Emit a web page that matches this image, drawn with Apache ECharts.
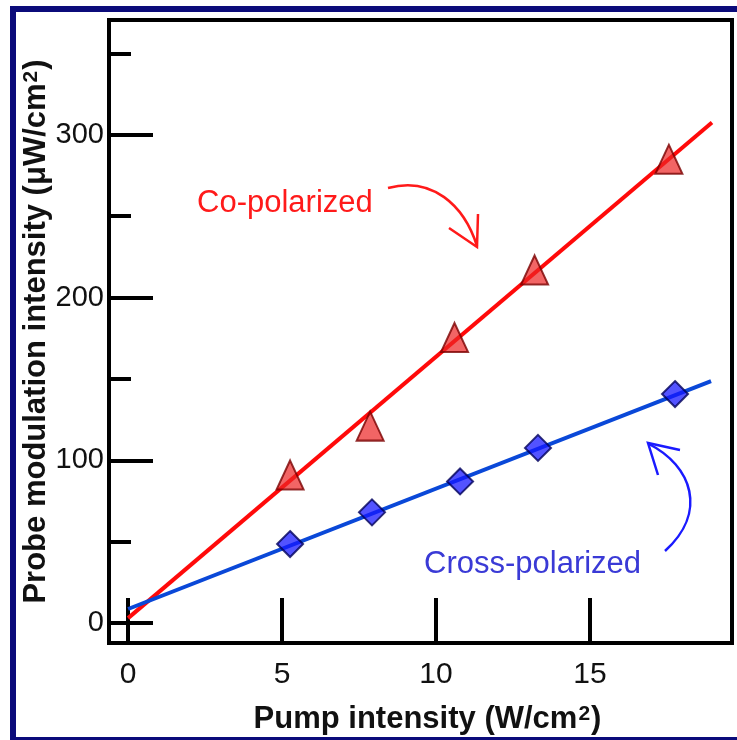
<!DOCTYPE html>
<html>
<head>
<meta charset="utf-8">
<script src="https://cdn.jsdelivr.net/npm/echarts@6/dist/echarts.min.js"></script>
<style>
html,body{margin:0;padding:0;background:#fff;}
#chart{width:737px;height:740px;}
</style>
</head>
<body>
<div id="chart"></div>
<script>
// ---- data ----
const coPolarized = [[5.26, 91], [7.86, 121], [10.6, 175.5], [13.2, 217], [17.56, 285]];
const crossPolarized = [[5.26, 48.5], [7.92, 68], [10.78, 87], [13.31, 107.6], [17.76, 140.7]];
const coFit = [[0, 3], [18.96, 307.6]];
const crossFit = [[0, 8.6], [18.93, 148.6]];
const xTicks = [0, 5, 10, 15];
const yMajorTicks = [0, 100, 200, 300];
const yMinorTicks = [50, 150, 250, 350];
const xRange = [-0.62, 19.61];
const yRange = [-12.3, 370.6];

const FONT = 'Liberation Sans, Arial, sans-serif';
const chart = echarts.init(document.getElementById('chart'), null, {renderer: 'canvas'});

const option = {
  backgroundColor: '#ffffff',
  animation: false,
  grid: {
    left: 109, right: 5, top: 20, bottom: 97,
    show: true, borderColor: '#000', borderWidth: 4, backgroundColor: 'transparent'
  },
  xAxis: {
    type: 'value', min: xRange[0], max: xRange[1],
    axisLine: {show: true, onZero: false, lineStyle: {color: '#000', width: 4}},
    axisTick: {show: true, inside: true, length: 45, customValues: xTicks, lineStyle: {color: '#000', width: 4}},
    axisLabel: {customValues: xTicks, margin: 17, color: '#111', fontSize: 30, fontFamily: FONT},
    splitLine: {show: false},
    name: '{a|Pump intensity (W/cm}{s|2}{a|)}',
    nameLocation: 'middle', nameGap: 61, nameMoveOverlap: false,
    nameTextStyle: {
      padding: [0, 0, 0, 14],
      rich: {
        a: {fontSize: 31, fontWeight: 'bold', fontFamily: FONT, color: '#111'},
        s: {fontSize: 21, fontWeight: 'bold', fontFamily: FONT, color: '#111', verticalAlign: 'top', padding: [0, 1, 8, 1]}
      }
    }
  },
  yAxis: [{
    type: 'value', min: yRange[0], max: yRange[1],
    axisLine: {show: true, onZero: false, lineStyle: {color: '#000', width: 4}},
    axisTick: {show: true, inside: true, length: 44, customValues: yMajorTicks, lineStyle: {color: '#000', width: 4}},
    axisLabel: {customValues: yMajorTicks, margin: 5, color: '#111', fontSize: 29, fontFamily: FONT},
    splitLine: {show: false},
    name: '{a|Probe modulation intensity (μW/cm}{s|2}{a|)}',
    nameLocation: 'middle', nameGap: 57, nameMoveOverlap: false,
    nameTextStyle: {
      rich: {
        a: {fontSize: 31, fontWeight: 'bold', fontFamily: FONT, color: '#111'},
        s: {fontSize: 21, fontWeight: 'bold', fontFamily: FONT, color: '#111', verticalAlign: 'top', padding: [0, 1, 8, 1]}
      }
    }
  }, {
    type: 'value', min: yRange[0], max: yRange[1], position: 'left', offset: 0,
    axisLine: {show: false, onZero: false},
    axisTick: {show: true, inside: true, length: 22, customValues: yMinorTicks, lineStyle: {color: '#000', width: 4}},
    axisLabel: {show: false},
    splitLine: {show: false}
  }],
  series: [
    {
      type: 'line', data: coFit, symbol: 'none', z: 2,
      lineStyle: {color: '#ff0a0a', width: 4}
    },
    {
      type: 'line', data: crossFit, symbol: 'none', z: 2,
      lineStyle: {color: '#0a48d8', width: 4}
    },
    {
      type: 'scatter', data: coPolarized, symbol: 'triangle', symbolSize: [27, 29], z: 3,
      itemStyle: {color: 'rgba(236,36,36,0.88)', borderColor: '#7a0000', borderWidth: 2}
    },
    {
      type: 'scatter', data: crossPolarized, symbol: 'diamond', symbolSize: 26, z: 3,
      itemStyle: {color: 'rgba(22,22,255,0.92)', borderColor: '#00005a', borderWidth: 2}
    }
  ],
  graphic: [
    // navy frame
    {type: 'rect', shape: {x: 10, y: 6, width: 727, height: 6}, style: {fill: '#0b0b7a'}, z: 100},
    {type: 'rect', shape: {x: 10, y: 6, width: 6, height: 734}, style: {fill: '#0b0b7a'}, z: 100},
    {type: 'rect', shape: {x: 10, y: 737, width: 727, height: 3}, style: {fill: '#0b0b7a'}, z: 100},
    // annotations
    {type: 'text', left: 197, top: 188, style: {text: 'Co-polarized', fill: '#ff1a1a', font: '31px ' + FONT}, z: 100},
    {type: 'text', left: 424, top: 549, style: {text: 'Cross-polarized', fill: '#3a3ad6', font: '31px ' + FONT}, z: 100},
    {type: 'bezierCurve', shape: {x1: 388, y1: 188, cpx1: 432, cpy1: 176, cpx2: 464, cpy2: 205, x2: 477, y2: 246},
      style: {stroke: '#ff1a1a', lineWidth: 2.5, fill: 'none'}, z: 100},
    {type: 'polyline', shape: {points: [[449, 228], [477, 247], [478, 214]]},
      style: {stroke: '#ff1a1a', lineWidth: 2.5, fill: 'none'}, z: 100},
    {type: 'bezierCurve', shape: {x1: 665, y1: 551, cpx1: 708, cpy1: 512, cpx2: 692, cpy2: 466, x2: 649, y2: 444},
      style: {stroke: '#1a1aff', lineWidth: 2.5, fill: 'none'}, z: 100},
    {type: 'polyline', shape: {points: [[680, 450], [648, 443], [658, 475]]},
      style: {stroke: '#1a1aff', lineWidth: 2.5, fill: 'none'}, z: 100}
  ]
};
chart.setOption(option);
</script>
</body>
</html>
